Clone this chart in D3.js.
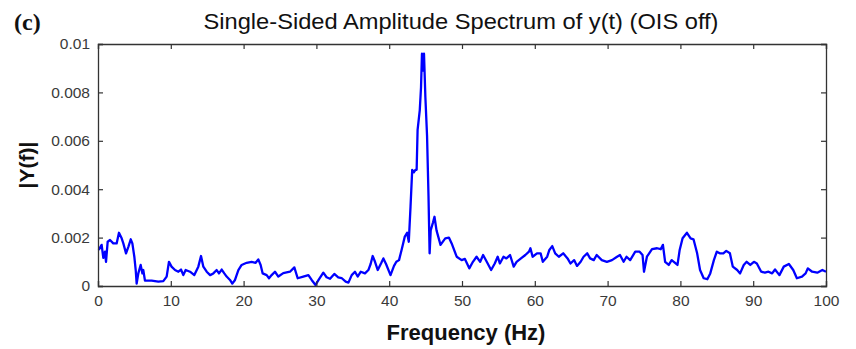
<!DOCTYPE html>
<html>
<head>
<meta charset="utf-8">
<script src="https://cdn.jsdelivr.net/npm/d3@7"></script>
<style>
  body { margin: 0; background: #fff; }
  svg { display: block; }
</style>
</head>
<body>
<div id="chart"></div>
<script>
// spectrum values
const freq = [0.1, 0.5, 0.73, 0.96, 1.1, 1.33, 1.65, 2.1, 2.56, 2.88, 3.25, 3.48, 3.85, 4.17, 4.5, 4.72, 4.99, 5.18, 5.31, 5.54, 5.86, 6.1, 6.22, 6.45, 7.37, 8.29, 8.97, 9.43, 9.75, 10.1, 10.58, 11.04, 11.4, 11.72, 12.04, 12.64, 13.23, 13.78, 14.15, 14.47, 14.93, 15.4, 15.84, 16.3, 16.62, 16.99, 17.35, 17.67, 18.13, 18.45, 18.82, 19.28, 19.73, 20.42, 21.1, 21.66, 22.02, 22.34, 22.62, 23.17, 23.49, 23.85, 24.31, 24.77, 25.45, 26.37, 26.97, 27.43, 28.2, 28.9, 29.35, 29.88, 30.3, 30.95, 31.4, 31.87, 32.46, 33.0, 33.46, 34.02, 34.4, 34.85, 35.3, 35.67, 36.1, 36.67, 37.14, 37.45, 37.73, 38.05, 38.43, 38.89, 39.2, 39.58, 40.18, 40.66, 40.98, 41.35, 41.7, 42.14, 42.46, 42.69, 42.93, 43.16, 43.4, 43.6, 43.77, 43.9, 44.2, 44.37, 44.5, 44.7, 44.78, 44.97, 45.2, 45.4, 45.55, 45.7, 45.99, 46.22, 46.5, 47.05, 47.7, 48.2, 48.58, 49.27, 49.95, 50.4, 51.0, 51.5, 52.0, 52.5, 52.9, 53.4, 54.0, 54.5, 54.9, 55.2, 55.7, 56.1, 56.6, 57.1, 57.5, 58.1, 58.7, 59.2, 59.4, 59.7, 60.3, 60.8, 61.1, 61.7, 62.0, 62.4, 62.8, 63.3, 63.9, 64.5, 64.9, 65.4, 65.8, 66.3, 66.7, 67.2, 67.6, 68.1, 68.5, 69.2, 69.9, 70.6, 71.3, 71.7, 72.2, 72.6, 73.1, 73.8, 74.4, 74.8, 75.0, 75.4, 76.1, 76.8, 77.3, 77.6, 77.9, 78.4, 78.8, 79.1, 79.6, 79.9, 80.3, 80.9, 81.4, 81.8, 82.3, 82.7, 83.2, 83.7, 84.1, 84.6, 85.0, 85.4, 85.9, 86.3, 86.8, 87.2, 87.8, 88.2, 88.7, 89.1, 89.6, 90.1, 90.5, 91.1, 91.6, 92.1, 92.6, 93.0, 93.6, 94.2, 94.9, 95.5, 96.0, 96.7, 97.2, 97.5, 98.1, 98.8, 99.5, 100];
const amp = [0.00149, 0.0017, 0.00116, 0.00142, 0.001, 0.00183, 0.0019, 0.00176, 0.00176, 0.0022, 0.00197, 0.00176, 0.00135, 0.00162, 0.00193, 0.00176, 0.00121, 0.00066, 0.0001, 0.00052, 0.00087, 0.00052, 0.00066, 0.00022, 0.00022, 0.00018, 0.0002, 0.00039, 0.001, 0.0008, 0.00066, 0.00059, 0.00068, 0.00045, 0.00066, 0.00059, 0.00045, 0.0008, 0.00124, 0.0008, 0.00059, 0.00045, 0.00052, 0.00066, 0.00052, 0.00068, 0.00052, 0.00039, 0.00025, 0.0001, 0.00025, 0.00066, 0.00087, 0.00096, 0.001, 0.00096, 0.0011, 0.00087, 0.00052, 0.00045, 0.00032, 0.00045, 0.00059, 0.00039, 0.00053, 0.00059, 0.00077, 0.00032, 0.00039, 0.00045, 0.00025, 0.00004, 0.00025, 0.00055, 0.00036, 0.0003, 0.0005, 0.00036, 0.00033, 0.00018, 0.00014, 0.00045, 0.00059, 0.00039, 0.00059, 0.00052, 0.00066, 0.00091, 0.00124, 0.001, 0.00066, 0.00094, 0.00114, 0.0009, 0.00045, 0.00083, 0.001, 0.00107, 0.00149, 0.00204, 0.0022, 0.00183, 0.00328, 0.0048, 0.0047, 0.0048, 0.0048, 0.00645, 0.00727, 0.0082, 0.0096, 0.0089, 0.0096, 0.0078, 0.0062, 0.0037, 0.00135, 0.0023, 0.0026, 0.00286, 0.0023, 0.0017, 0.00197, 0.002, 0.00176, 0.00121, 0.00107, 0.00112, 0.00073, 0.001, 0.00121, 0.001, 0.00128, 0.001, 0.00066, 0.00093, 0.00121, 0.00093, 0.00121, 0.00114, 0.00128, 0.0008, 0.001, 0.00114, 0.00128, 0.00142, 0.00156, 0.00121, 0.00135, 0.00135, 0.001, 0.00121, 0.00149, 0.00165, 0.00135, 0.00121, 0.00135, 0.00114, 0.00093, 0.00107, 0.00083, 0.001, 0.00121, 0.00135, 0.00114, 0.00107, 0.00128, 0.00107, 0.001, 0.00107, 0.00121, 0.00128, 0.001, 0.00121, 0.00107, 0.00142, 0.00142, 0.00128, 0.00059, 0.00121, 0.00152, 0.00156, 0.00152, 0.0017, 0.001, 0.00087, 0.00107, 0.001, 0.00087, 0.00149, 0.00197, 0.0022, 0.00197, 0.00193, 0.00135, 0.00066, 0.00032, 0.00028, 0.00052, 0.00107, 0.00142, 0.00135, 0.00135, 0.00145, 0.00135, 0.0008, 0.00066, 0.00052, 0.00087, 0.001, 0.00087, 0.001, 0.00093, 0.00059, 0.00055, 0.00059, 0.00052, 0.00068, 0.00045, 0.0008, 0.00091, 0.00066, 0.00032, 0.00039, 0.00052, 0.00073, 0.00059, 0.00055, 0.00066, 0.00059];

const xTicks = [0, 10, 20, 30, 40, 50, 60, 70, 80, 90, 100];
const yTicks = [0, 0.002, 0.004, 0.006, 0.008, 0.01];
const yTickLabels = ['0', '0.002', '0.004', '0.006', '0.008', '0.01'];

const width = 856, height = 349;
const margin = {top: 44, right: 30, bottom: 63, left: 98};
const innerW = width - margin.left - margin.right;
const innerH = height - margin.top - margin.bottom;

const svg = d3.select('#chart').append('svg')
  .attr('width', width)
  .attr('height', height);

const x = d3.scaleLinear().domain([0, 100]).range([0, innerW]);
const y = d3.scaleLinear().domain([0, 0.01]).range([innerH, 0]);

const g = svg.append('g')
  .attr('transform', `translate(${margin.left},${margin.top})`);

// data line
const line = d3.line()
  .x((d, i) => x(freq[i]))
  .y(d => y(d));

g.append('path')
  .datum(amp)
  .attr('fill', 'none')
  .attr('stroke', '#0000ff')
  .attr('stroke-width', 2.3)
  .attr('stroke-linejoin', 'round')
  .attr('d', line);

// axes, MATLAB style: ticks point inward, box all round
const axisColor = '#333';
const tickFont = '15.5px "Liberation Sans", Arial, sans-serif';

const xAxis = g.append('g')
  .attr('transform', `translate(0,${innerH})`)
  .call(d3.axisBottom(x).tickValues(xTicks).tickSize(-5).tickPadding(9).tickFormat(d3.format('d')));

const xTop = g.append('g')
  .call(d3.axisTop(x).tickValues(xTicks).tickSize(-5).tickFormat(''));

const yAxis = g.append('g')
  .call(d3.axisLeft(y).tickValues(yTicks).tickSize(-5).tickPadding(8)
    .tickFormat((d, i) => yTickLabels[i]));

const yRight = g.append('g')
  .attr('transform', `translate(${innerW},0)`)
  .call(d3.axisRight(y).tickValues(yTicks).tickSize(-5).tickFormat(''));

for (const ax of [xAxis, xTop, yAxis, yRight]) {
  ax.select('.domain').attr('stroke', axisColor).attr('stroke-width', 1.3);
  ax.selectAll('.tick line').attr('stroke', axisColor).attr('stroke-width', 1.2);
  ax.selectAll('.tick text')
    .attr('fill', '#3a3a3a')
    .style('font', tickFont);
}

// titles
svg.append('text')
  .attr('x', 461)
  .attr('y', 29)
  .attr('text-anchor', 'middle')
  .attr('textLength', 515)
  .attr('lengthAdjust', 'spacingAndGlyphs')
  .style('font', '22.5px "Liberation Sans", Arial, sans-serif')
  .attr('fill', '#111')
  .text('Single-Sided Amplitude Spectrum of y(t) (OIS off)');

svg.append('text')
  .attr('x', 14)
  .attr('y', 30)
  .style('font', 'bold 24px "Liberation Serif", "Times New Roman", serif')
  .attr('fill', '#111')
  .text('(c)');

svg.append('text')
  .attr('x', 466)
  .attr('y', 340)
  .attr('text-anchor', 'middle')
  .style('font', 'bold 22px "Liberation Sans", Arial, sans-serif')
  .attr('fill', '#111')
  .text('Frequency (Hz)');

svg.append('text')
  .attr('transform', 'translate(34,165) rotate(-90)')
  .attr('text-anchor', 'middle')
  .style('font', 'bold 21px "Liberation Sans", Arial, sans-serif')
  .attr('fill', '#111')
  .text('|Y(f)|');
</script>
</body>
</html>
